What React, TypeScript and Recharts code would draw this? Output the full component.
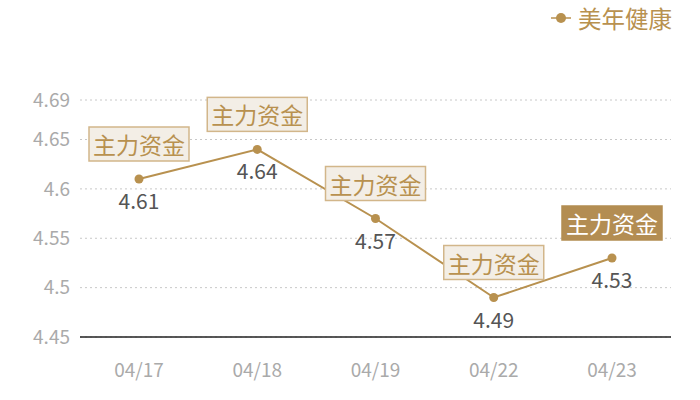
import React from "react";
import {
  CartesianGrid,
  LabelList,
  Line,
  LineChart,
  XAxis,
  YAxis
} from "recharts";

const dates = ["04/17", "04/18", "04/19", "04/22", "04/23"];
const prices = [4.61, 4.64, 4.57, 4.49, 4.53];
const tags = ["主力资金", "主力资金", "主力资金", "主力资金", "主力资金"];
const yTicks = [4.45, 4.5, 4.55, 4.6, 4.65, 4.69];
const seriesName = "美年健康";

const data = dates.map((date, i) => ({ date, price: prices[i], tag: tags[i] }));

const GOLD = "#b8914f";
const FONT = "'Noto Sans CJK SC', 'Noto Sans', sans-serif";

function PointLabel(props: any) {
  const { x, y, index, value } = props;
  const last = index === data.length - 1;
  const w = 100;
  const h = 34;
  return (
    <g>
      <rect
        x={x - w / 2}
        y={y - 18 - h}
        width={w}
        height={h}
        fill={last ? "#b38d52" : "#f3eee6"}
        stroke={last ? "#b38d52" : "#d2b68a"}
        strokeWidth={1.5}
      />
      <text
        x={x}
        y={y - 18 - h / 2}
        textAnchor="middle"
        dominantBaseline="central"
        fontSize={23}
        fontFamily={FONT}
        fill={last ? "#ffffff" : GOLD}
      >
        {data[index].tag}
      </text>
      <text
        x={x}
        y={y + 21}
        textAnchor="middle"
        dominantBaseline="central"
        fontSize={21}
        fontFamily={FONT}
        fill="#555555"
      >
        {value}
      </text>
    </g>
  );
}

function LegendBox() {
  return (
    <svg width={140} height={36} style={{ position: "absolute", left: 540, top: 0 }}>
      <line x1={11} y1={18} x2={31} y2={18} stroke={GOLD} strokeWidth={1.5} />
      <circle cx={21} cy={18} r={5} fill={GOLD} />
      <text
        x={38}
        y={18}
        dominantBaseline="central"
        fontSize={23.5}
        fontFamily={FONT}
        fill={GOLD}
      >
        {seriesName}
      </text>
    </svg>
  );
}

export default function App() {
  return (
    <div style={{ position: "absolute", left: 0, top: 0, width: 700, height: 400, background: "#fff" }}>
      <LineChart
        width={700}
        height={400}
        data={data}
        margin={{ top: 100, right: 29, left: 0, bottom: 33 }}
      >
        <CartesianGrid
          horizontal
          vertical={false}
          stroke="#c8c8c8"
          strokeDasharray="2 3"
        />
        <XAxis
          dataKey="date"
          height={30}
          padding={{ left: 59, right: 59 }}
          axisLine={{ stroke: "#222", strokeWidth: 1.5 }}
          tickLine={false}
          tickMargin={21}
          tick={{ fill: "#aaaaaa", fontSize: 19, fontFamily: FONT }}
        />
        <YAxis
          width={80}
          domain={[4.45, 4.69]}
          ticks={yTicks}
          axisLine={false}
          tickLine={false}
          tickMargin={4}
          tick={{ fill: "#aaaaaa", fontSize: 19, fontFamily: FONT }}
        />
        <Line
          dataKey="price"
          name={seriesName}
          stroke={GOLD}
          strokeWidth={2}
          dot={{ r: 4.5, fill: GOLD, stroke: GOLD, strokeWidth: 0 }}
          activeDot={false}
          isAnimationActive={false}
        >
          <LabelList dataKey="price" content={<PointLabel />} />
        </Line>
      </LineChart>
      <LegendBox />
    </div>
  );
}
